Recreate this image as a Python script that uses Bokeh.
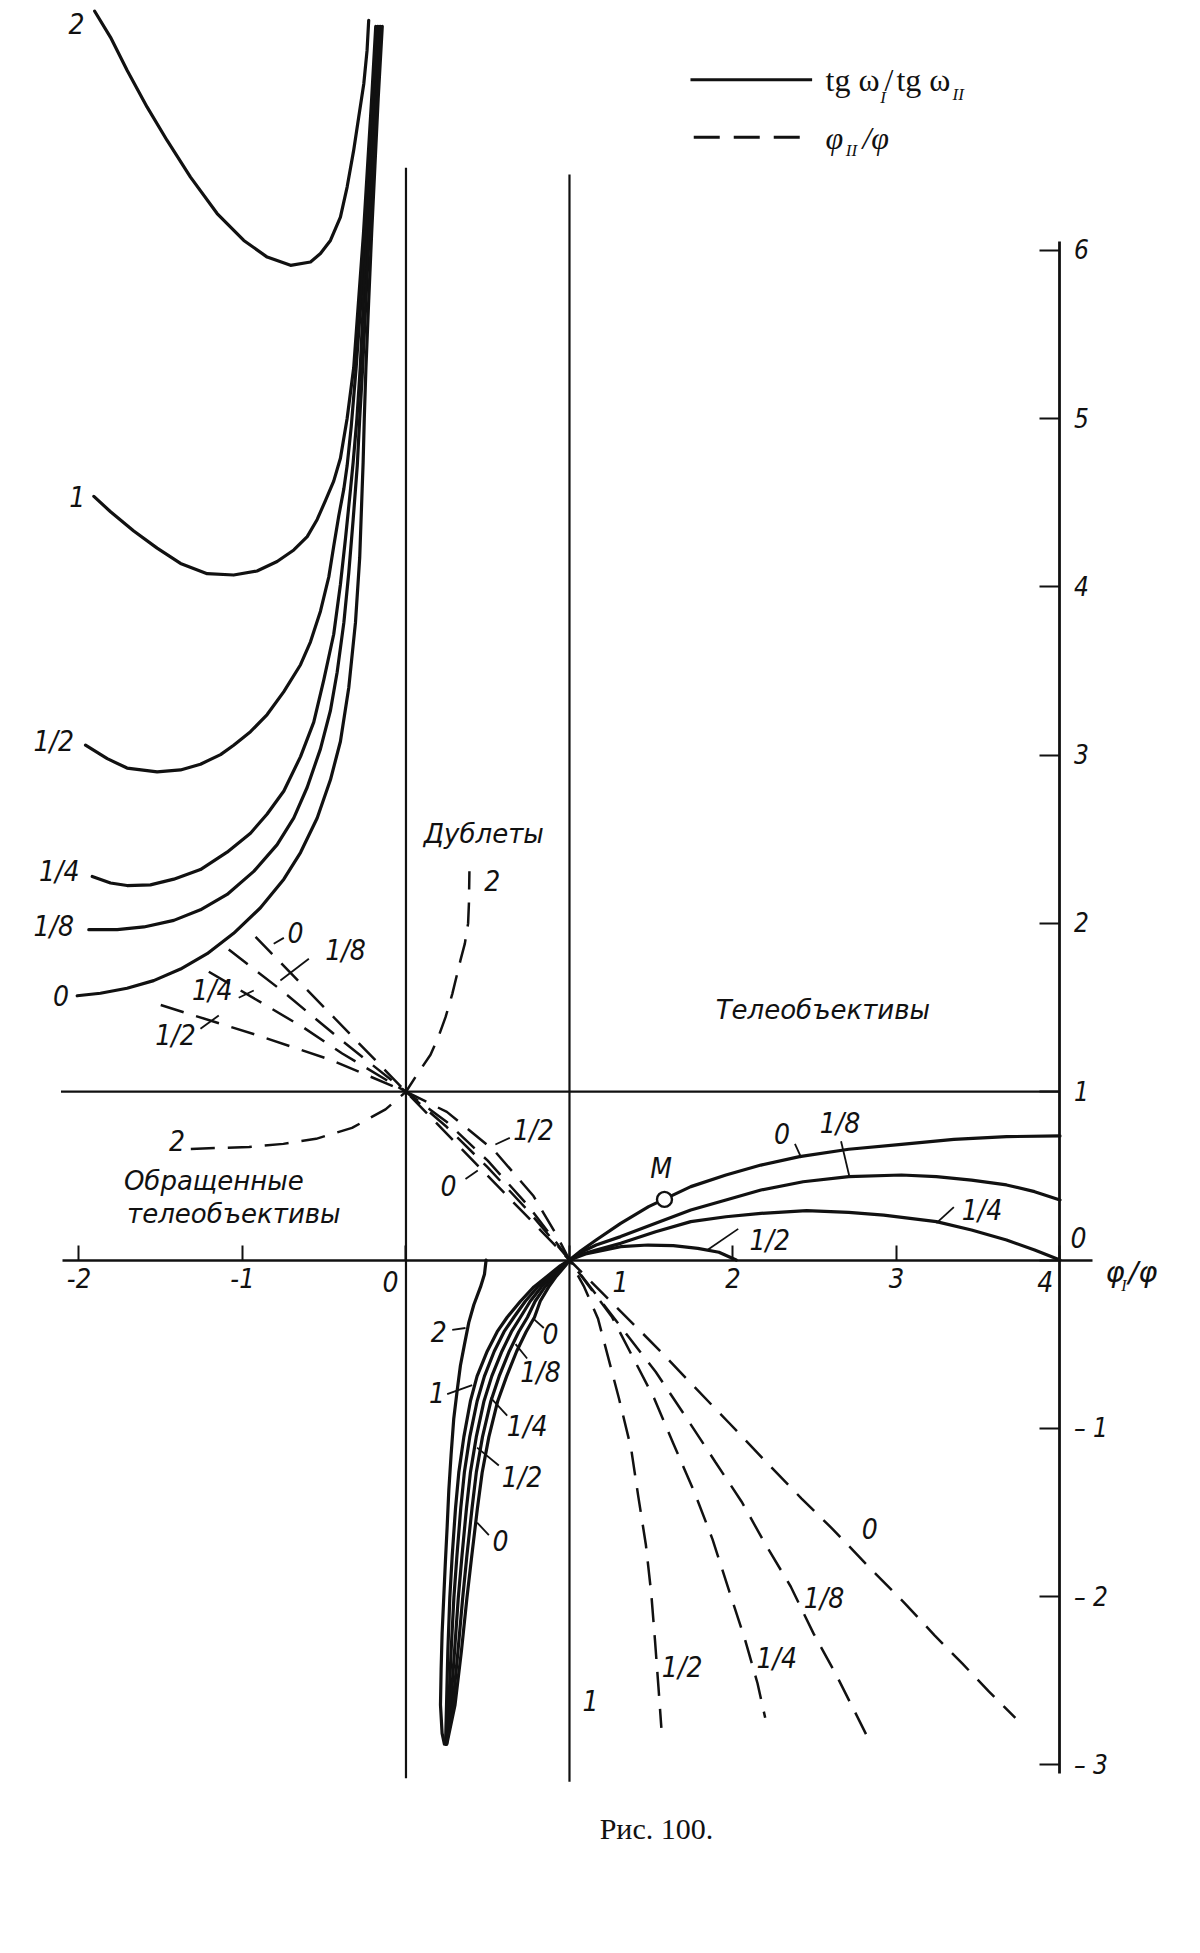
from bokeh.plotting import figure
from bokeh.models import Range1d, LinearAxis, FixedTicker
from bokeh.core.properties import value
from bokeh.embed import file_html
from bokeh.resources import INLINE

# ---------------- data ----------------
# tg wI / tg wII (solid), upper-left family, parameter 2, 1, 1/2, 1/4, 1/8, 0
ul2_x = [-1.904, -1.807, -1.705, -1.583, -1.461, -1.318, -1.155, -0.992, -0.849, -0.706, -0.584, -0.523,
         -0.462, -0.401, -0.36, -0.32, -0.289, -0.258, -0.238, -0.228]
ul2_y = [7.42, 7.265, 7.068, 6.85, 6.652, 6.434, 6.218, 6.058, 5.959, 5.91, 5.93, 5.98,
         6.058, 6.197, 6.375, 6.593, 6.791, 6.989, 7.187, 7.366]
ul1_x = [-1.909, -1.807, -1.665, -1.522, -1.379, -1.216, -1.054, -0.911, -0.788, -0.686, -0.604, -0.543,
         -0.492, -0.442, -0.401, -0.36, -0.32, -0.29, -0.26, -0.235, -0.21, -0.185]
ul1_y = [4.537, 4.446, 4.332, 4.23, 4.139, 4.078, 4.07, 4.094, 4.15, 4.219, 4.298, 4.4,
         4.514, 4.628, 4.764, 5.0, 5.3, 5.7, 6.1, 6.5, 6.9, 7.33]
ulh_x = [-1.96, -1.827, -1.706, -1.522, -1.379, -1.257, -1.134, -1.054, -0.951, -0.849, -0.747, -0.645,
         -0.584, -0.523, -0.472, -0.442, -0.411, -0.38, -0.36, -0.335, -0.305, -0.275, -0.25, -0.225, -0.2, -0.175]
ulh_y = [3.059, 2.979, 2.923, 2.9, 2.912, 2.946, 3.003, 3.059, 3.139, 3.241, 3.377, 3.537,
         3.673, 3.855, 4.059, 4.241, 4.422, 4.582, 4.719, 4.95, 5.3, 5.7, 6.1, 6.5, 6.9, 7.33]
ulq_x = [-1.919, -1.807, -1.706, -1.563, -1.42, -1.257, -1.094, -0.951, -0.849, -0.747, -0.645, -0.564,
         -0.503, -0.442, -0.401, -0.37, -0.339, -0.323, -0.30, -0.28, -0.26, -0.237, -0.213, -0.19, -0.165]
ulq_y = [2.279, 2.24, 2.225, 2.229, 2.263, 2.32, 2.423, 2.536, 2.65, 2.787, 2.991, 3.196,
         3.446, 3.718, 4.014, 4.287, 4.582, 4.741, 5.0, 5.3, 5.7, 6.1, 6.5, 6.9, 7.33]
ule_x = [-1.94, -1.766, -1.603, -1.42, -1.257, -1.094, -0.931, -0.788, -0.686, -0.604, -0.523, -0.462,
         -0.421, -0.38, -0.35, -0.323, -0.298, -0.283, -0.265, -0.245, -0.225, -0.202, -0.18, -0.155]
ule_y = [1.963, 1.963, 1.979, 2.018, 2.081, 2.172, 2.309, 2.468, 2.627, 2.809, 3.037, 3.265,
         3.492, 3.787, 4.082, 4.4, 4.719, 5.0, 5.3, 5.7, 6.1, 6.5, 6.9, 7.33]
ul0_x = [-2.011, -1.869, -1.706, -1.543, -1.379, -1.216, -1.054, -0.89, -0.747, -0.645, -0.543, -0.462,
         -0.401, -0.35, -0.309, -0.283, -0.268, -0.262, -0.255, -0.245, -0.228, -0.21, -0.19, -0.17, -0.145]
ul0_y = [1.57, 1.585, 1.615, 1.66, 1.729, 1.82, 1.941, 2.093, 2.263, 2.421, 2.626, 2.853,
         3.081, 3.4, 3.787, 4.173, 4.582, 4.741, 5.0, 5.3, 5.7, 6.1, 6.5, 6.9, 7.33]

# lower bundle (solid), from (1,0) down to the tip
lb2_x = [0.49, 0.48, 0.456, 0.415, 0.384, 0.358, 0.333, 0.313, 0.292, 0.276, 0.262, 0.252, 0.241,
         0.231, 0.221, 0.215, 0.211, 0.221, 0.235]
lb2_y = [0.0, -0.085, -0.16, -0.266, -0.372, -0.5, -0.627, -0.776, -0.945, -1.157, -1.369, -1.582, -1.794,
         -2.006, -2.218, -2.43, -2.643, -2.813, -2.876]
lb_y = [0.0, -0.033, -0.096, -0.16, -0.245, -0.34, -0.426, -0.542, -0.69, -0.839, -1.051, -1.263, -1.475,
        -1.752, -2.006, -2.324, -2.643, -2.876]
lb1_x = [1.0, 0.945, 0.864, 0.782, 0.70, 0.619, 0.558, 0.497, 0.435, 0.394, 0.354, 0.323, 0.303,
         0.283, 0.268, 0.256, 0.248, 0.242]
lbh_x = [1.0, 0.953, 0.878, 0.805, 0.73, 0.66, 0.60, 0.54, 0.48, 0.435, 0.39, 0.357, 0.335,
         0.312, 0.293, 0.276, 0.262, 0.244]
lbq_x = [1.0, 0.96, 0.892, 0.828, 0.76, 0.70, 0.645, 0.587, 0.525, 0.477, 0.43, 0.394, 0.37,
         0.343, 0.32, 0.297, 0.274, 0.246]
lbe_x = [1.0, 0.968, 0.906, 0.85, 0.79, 0.743, 0.69, 0.632, 0.57, 0.519, 0.468, 0.43, 0.404,
         0.373, 0.347, 0.318, 0.287, 0.248]
lb0_x = [1.0, 0.976, 0.92, 0.873, 0.821, 0.786, 0.735, 0.677, 0.616, 0.561, 0.507, 0.466, 0.437,
         0.403, 0.373, 0.339, 0.30, 0.25]

# upper-right family (solid), from (1,0)
ur0_x = [1.0, 1.07, 1.163, 1.313, 1.484, 1.742, 1.957, 2.171, 2.407, 2.708, 3.03, 3.351, 3.673, 4.0]
ur0_y = [0.0, 0.055, 0.119, 0.218, 0.317, 0.436, 0.505, 0.564, 0.614, 0.658, 0.687, 0.717, 0.733, 0.737]
ure_x = [1.0, 1.07, 1.163, 1.313, 1.527, 1.742, 1.957, 2.171, 2.429, 2.708, 3.03, 3.244, 3.459, 3.673, 3.845, 4.0]
ure_y = [0.0, 0.045, 0.089, 0.139, 0.218, 0.297, 0.357, 0.416, 0.465, 0.495, 0.505, 0.495, 0.475, 0.446, 0.406, 0.357]
urq_x = [1.0, 1.07, 1.163, 1.313, 1.527, 1.742, 1.957, 2.171, 2.45, 2.708, 2.922, 3.244, 3.459, 3.673, 3.845, 4.0]
urq_y = [0.0, 0.032, 0.059, 0.099, 0.168, 0.228, 0.257, 0.277, 0.293, 0.283, 0.267, 0.228, 0.178, 0.119, 0.059, 0.0]
urh_x = [1.0, 1.098, 1.21, 1.313, 1.48, 1.635, 1.785, 1.914, 2.02]
urh_y = [0.0, 0.036, 0.059, 0.079, 0.089, 0.085, 0.069, 0.046, 0.0]

# point M
m_x = [1.581]
m_y = [0.36]

# phiII / phi (dashed), parameter 0, 1/8, 1/4, 1/2, 2
d0_x = [-0.92, 0.0, 1.0, 1.549, 1.763, 1.978, 2.203, 2.418, 2.611, 2.847, 3.051, 3.233, 3.405, 3.566, 3.727]
d0_y = [1.92, 1.0, 0.0, -0.535, -0.753, -0.97, -1.20, -1.416, -1.60, -1.84, -2.04, -2.23, -2.40, -2.565, -2.72]
de_x = [-1.084, -0.751, -0.384, 0.0, 0.25, 0.5, 0.75, 1.0, 1.345, 1.527, 1.71, 1.892, 2.053, 2.193, 2.353,
        2.493, 2.632, 2.74, 2.815]
de_y = [1.845, 1.594, 1.297, 1.0, 0.79, 0.55, 0.29, 0.0, -0.436, -0.664, -0.93, -1.20, -1.436, -1.68, -1.94,
        -2.22, -2.466, -2.674, -2.82]
dq_x = [-1.206, -0.853, -0.625, -0.39, 0.0, 0.25, 0.5, 0.75, 1.0, 1.259, 1.517, 1.635, 1.763, 1.875, 1.978,
        2.075, 2.15, 2.197]
dq_y = [1.713, 1.511, 1.38, 1.227, 1.0, 0.82, 0.59, 0.32, 0.0, -0.337, -0.82, -1.09, -1.377, -1.66, -1.97,
        -2.26, -2.515, -2.72]
dh_x = [-1.50, -0.914, -0.462, 0.0, 0.25, 0.54, 0.78, 0.92, 1.0, 1.09, 1.174, 1.302, 1.377, 1.42, 1.467,
        1.50, 1.523, 1.544, 1.562]
dh_y = [1.515, 1.337, 1.19, 1.0, 0.88, 0.65, 0.38, 0.15, 0.0, -0.16, -0.347, -0.82, -1.12, -1.40, -1.69,
        -1.98, -2.26, -2.535, -2.78]
d2_x = [-1.316, -0.96, -0.75, -0.55, -0.33, -0.125, 0.0, 0.06, 0.15, 0.2, 0.242, 0.283, 0.333, 0.36, 0.38,
        0.385, 0.388]
d2_y = [0.66, 0.672, 0.69, 0.72, 0.785, 0.895, 1.0, 1.09, 1.22, 1.33, 1.443, 1.58, 1.78, 1.88, 2.0,
        2.12, 2.31]

# reference lines: y = 1, x = 0, x = 1
ref_x0 = [-2.11, 0.0, 1.0]
ref_y0 = [1.0, -3.08, -3.10]
ref_x1 = [4.0, 0.0, 1.0]
ref_y1 = [1.0, 6.49, 6.45]

# axes
x_ticks = [-2, -1, 0, 1, 2, 3, 4]
x_tick_labels = ["-2", "-1", "", "", "2", "3", ""]
y_ticks = [-3, -2, -1, 0, 1, 2, 3, 4, 5, 6]
y_tick_labels = ["\u2013 3", "\u2013 2", "\u2013 1", "", "1", "2", "3", "4", "5", "6"]

# curve labels (hand lettering)
lbl_text = ["2", "1", "1/2", "1/4", "1/8", "0",
            "0", "1/8", "1/4", "1/2",
            "2", "2", "1/2", "0",
            "M", "0", "1/8", "1/4", "1/2", "0",
            "2", "1", "0", "1/8", "1/4", "1/2", "0",
            "1", "1/2", "1/4", "1/8", "0",
            "0", "1", "4"]
lbl_x = [-2.015, -2.01, -2.154, -2.12, -2.154, -2.11,
         -0.676, -0.37, -1.185, -1.41,
         0.527, -1.40, 0.78, 0.26,
         1.56, 2.30, 2.654, 3.523, 2.225, 4.113,
         0.20, 0.19, 0.884, 0.823, 0.741, 0.71, 0.578,
         1.128, 1.689, 2.268, 2.557, 2.836,
         -0.095, 1.312, 3.91]
lbl_y = [7.35, 4.537, 3.08, 2.31, 1.98, 1.57,
         1.948, 1.84, 1.60, 1.334,
         2.255, 0.71, 0.77, 0.443,
         0.542, 0.75, 0.81, 0.294, 0.116, 0.135,
         -0.425, -0.786, -0.436, -0.669, -0.988, -1.295, -1.667,
         -2.62, -2.42, -2.37, -2.013, -1.597,
         -0.125, -0.125, -0.125]

# region names
word_text = ["\u0414\u0443\u0431\u043b\u0435\u0442\u044b",
             "\u0422\u0435\u043b\u0435\u043e\u0431\u044a\u0435\u043a\u0442\u0438\u0432\u044b",
             "\u041e\u0431\u0440\u0430\u0449\u0435\u043d\u043d\u044b\u0435",
             "\u0442\u0435\u043b\u0435\u043e\u0431\u044a\u0435\u043a\u0442\u0438\u0432\u044b"]
word_x = [0.476, 2.55, -1.175, -1.053]
word_y = [2.53, 1.487, 0.472, 0.274]

# label leaders
lead_x0 = [2.379, 2.661, 3.244, 1.839, 0.283, 0.252, 0.782, 0.67, 0.517, 0.435, 0.435, 0.547, 0.364,
           -0.809, -0.768, -1.023, -1.257]
lead_y0 = [0.69, 0.706, 0.219, 0.056, -0.415, -0.797, -0.351, -0.50, -0.818, -1.115, -1.56, 0.686, 0.482,
           1.879, 1.661, 1.558, 1.374]
lead_x1 = [2.418, 2.712, 3.351, 2.032, 0.364, 0.405, 0.843, 0.741, 0.619, 0.568, 0.507, 0.635, 0.439,
           -0.747, -0.594, -0.931, -1.145]
lead_y1 = [0.607, 0.496, 0.314, 0.185, -0.404, -0.743, -0.404, -0.585, -0.924, -1.221, -1.635, 0.726, 0.532,
           1.914, 1.79, 1.601, 1.453]

# ---------------- figure ----------------
INK = "#111111"
HAND = "Liberation Sans Narrow, DejaVu Sans Condensed, DejaVu Sans"
WORD = "DejaVu Sans"
SERIF = "Liberation Serif"

X0 = -2.480
X1 = X0 + 1184 / 163.5
Y1 = 7.4837
Y0 = Y1 - 1930 / 168.3

p = figure(frame_width=1184, frame_height=1930, x_range=Range1d(X0, X1), y_range=Range1d(Y0, Y1),
           x_axis_type=None, y_axis_type=None, toolbar_location=None, output_backend="svg",
           min_border=0, outline_line_color=None, background_fill_color="white",
           border_fill_color="white")

# reference lines
p.segment(x0=ref_x0, y0=ref_y0, x1=ref_x1, y1=ref_y1, line_color=INK, line_width=2.2)

# solid curves
for xs, ys in [(ul2_x, ul2_y), (ul1_x, ul1_y), (ulh_x, ulh_y), (ulq_x, ulq_y), (ule_x, ule_y), (ul0_x, ul0_y),
               (lb2_x, lb2_y), (lb1_x, lb_y), (lbh_x, lb_y), (lbq_x, lb_y), (lbe_x, lb_y), (lb0_x, lb_y),
               (ur0_x, ur0_y), (ure_x, ure_y), (urq_x, urq_y), (urh_x, urh_y)]:
    p.line(xs, ys, line_color=INK, line_width=3.2, line_join="round", line_cap="round")

# dashed curves
for xs, ys in [(d0_x, d0_y), (de_x, de_y), (dq_x, dq_y), (dh_x, dh_y), (d2_x, d2_y)]:
    p.line(xs, ys, line_color=INK, line_width=2.5, line_dash="24 13", line_cap="butt")

# leaders
p.segment(x0=lead_x0, y0=lead_y0, x1=lead_x1, y1=lead_y1, line_color=INK, line_width=1.8)

# point M
p.scatter(m_x, m_y, marker="circle", size=15, fill_color="white", line_color=INK, line_width=2.4)

# axes
xaxis = LinearAxis(fixed_location=0, bounds=(-2.1, 4.2), ticker=FixedTicker(ticks=x_ticks, minor_ticks=[]),
                   major_label_overrides={v: t for v, t in zip(x_ticks, x_tick_labels)},
                   axis_line_width=2.6, axis_line_color=INK, major_tick_in=15, major_tick_out=0,
                   major_tick_line_width=2, major_tick_line_color=INK, minor_tick_in=0, minor_tick_out=0,
                   major_label_standoff=8, major_label_text_font=HAND, major_label_text_font_style="italic",
                   major_label_text_font_size="27px", major_label_text_color=INK)
p.add_layout(xaxis, "below")
yaxis = LinearAxis(fixed_location=4, bounds=(-3.05, 6.05), ticker=FixedTicker(ticks=y_ticks, minor_ticks=[]),
                   major_label_overrides={v: t for v, t in zip(y_ticks, y_tick_labels)},
                   axis_line_width=2.8, axis_line_color=INK, major_tick_in=20, major_tick_out=0,
                   major_tick_line_width=2, major_tick_line_color=INK, minor_tick_in=0, minor_tick_out=0,
                   major_label_standoff=14, major_label_text_font=HAND, major_label_text_font_style="italic",
                   major_label_text_font_size="26px", major_label_text_color=INK)
p.add_layout(yaxis, "right")

# labels
p.text(x=lbl_x, y=lbl_y, text=lbl_text, text_font=value(HAND), text_font_style="italic",
       text_font_size="28px", text_align="center", text_baseline="middle", text_color=INK)
p.text(x=word_x, y=word_y, text=word_text, text_font=value(WORD), text_font_style="italic",
       text_font_size="26px", text_align="center", text_baseline="middle", text_color=INK)

# x-axis name  phi_I / phi
p.text(x=[4.278, 4.419], y=[-0.07, -0.07], text=["\u03c6", "/\u03c6"], text_font=value(WORD),
       text_font_style="italic", text_font_size="29px", text_align="left", text_baseline="middle", text_color=INK)
p.text(x=[4.375], y=[-0.15], text=["I"], text_font=value(SERIF), text_font_style="italic",
       text_font_size="16px", text_align="left", text_baseline="middle", text_color=INK)

# legend
p.line([1.74, 2.484], [7.013, 7.013], line_color=INK, line_width=3)
p.line([1.76, 2.47], [6.671, 6.671], line_color=INK, line_width=3, line_dash="26 14")
p.text(x=[2.566, 2.927, 3.0], y=[7.013, 7.013, 7.013], text=["tg \u03c9", "/", "tg \u03c9"],
       text_font=value(SERIF), text_font_size="32px", text_align="left", text_baseline="middle", text_color=INK)
p.text(x=[2.9, 3.343], y=[6.91, 6.925], text=["I", "II"], text_font=value(SERIF), text_font_style="italic",
       text_font_size="17px", text_align="left", text_baseline="middle", text_color=INK)
p.text(x=[2.566, 2.792], y=[6.668, 6.668], text=["\u03c6", "/\u03c6"], text_font=value(SERIF),
       text_font_style="italic", text_font_size="32px", text_align="left", text_baseline="middle", text_color=INK)
p.text(x=[2.69], y=[6.59], text=["II"], text_font=value(SERIF), text_font_style="italic",
       text_font_size="17px", text_align="left", text_baseline="middle", text_color=INK)

# caption
p.text(x=[1.532], y=[-3.378], text=["\u0420\u0438\u0441. 100."], text_font=value(SERIF),
       text_font_size="30px", text_align="center", text_baseline="middle", text_color=INK)

open("out.html", "w").write(file_html(p, INLINE))
